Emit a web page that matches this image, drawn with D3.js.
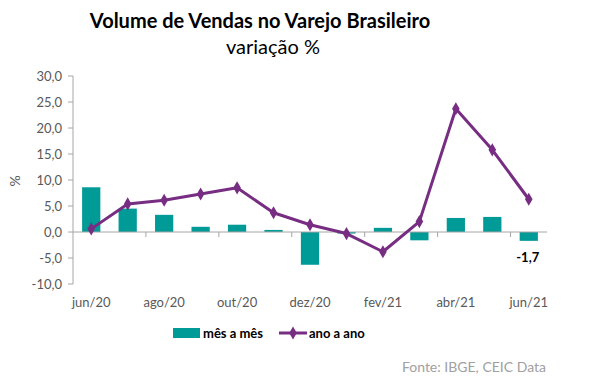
<!DOCTYPE html>
<html lang="pt">
<head>
<meta charset="UTF-8">
<title>Volume de Vendas no Varejo Brasileiro</title>
<script src="https://d3js.org/d3.v7.min.js"></script>
<style>
  body { margin: 0; background: #fff; }
  svg { display: block; font-family: Lato, "Open Sans", sans-serif; }
</style>
</head>
<body>
<svg width="597" height="392"></svg>
<script>
const months = ["jun/20", "jul/20", "ago/20", "set/20", "out/20", "nov/20", "dez/20",
                "jan/21", "fev/21", "mar/21", "abr/21", "mai/21", "jun/21"];
const mesAMes = [8.6, 4.5, 3.3, 1.0, 1.4, 0.4, -6.3, -0.3, 0.8, -1.6, 2.7, 2.9, -1.7];
const anoAAno = [0.6, 5.4, 6.1, 7.3, 8.5, 3.7, 1.4, -0.3, -3.8, 2.0, 23.7, 15.8, 6.3];
const yTicks = [-10, -5, 0, 5, 10, 15, 20, 25, 30];

const teal = "#009a97", purple = "#772d82", grey = "#595959", axisGrey = "#a6a6a6";
const svg = d3.select("svg");

const x = d3.scaleBand().domain(months).range([73, 547]).paddingInner(0.5).paddingOuter(0.25);
const y = d3.scaleLinear().domain([-10, 30]).range([284, 76]);
const fmt = v => d3.format(".1f")(v).replace(".", ",").replace("−", "-");

// y axis
svg.append("line").attr("x1", 73).attr("x2", 73).attr("y1", y(30)).attr("y2", y(-10))
  .attr("stroke", axisGrey);
svg.selectAll(".ytick").data(yTicks).enter().append("line")
  .attr("x1", 68).attr("x2", 73).attr("y1", d => y(d)).attr("y2", d => y(d))
  .attr("stroke", axisGrey);
svg.selectAll(".ylab").data(yTicks).enter().append("text")
  .attr("x", 62).attr("y", d => y(d) + 4.5)
  .attr("text-anchor", "end").attr("font-size", 13).attr("fill", grey)
  .text(fmt);
svg.append("text").attr("transform", "translate(20,181) rotate(-90)")
  .attr("text-anchor", "middle").attr("font-size", 14).attr("fill", grey).text("%");

// bars
const step = x.step();
svg.selectAll(".bar").data(months).enter().append("rect")
  .attr("x", d => x(d)).attr("width", x.bandwidth())
  .attr("y", (d, i) => y(Math.max(0, mesAMes[i])))
  .attr("height", (d, i) => Math.abs(y(mesAMes[i]) - y(0)))
  .attr("fill", teal);

// x axis at zero
svg.append("line").attr("x1", 73).attr("x2", 547).attr("y1", y(0)).attr("y2", y(0))
  .attr("stroke", axisGrey);
const tickIdx = d3.range(2, 14, 2);
svg.selectAll(".xtick").data(tickIdx).enter().append("line")
  .attr("x1", d => 73 + d * step).attr("x2", d => 73 + d * step)
  .attr("y1", y(0)).attr("y2", y(0) + 5).attr("stroke", axisGrey);
svg.selectAll(".xlab").data(months.filter((d, i) => i % 2 === 0)).enter().append("text")
  .attr("x", d => x(d) + x.bandwidth() / 2).attr("y", 307)
  .attr("text-anchor", "middle").attr("font-size", 13).attr("fill", grey)
  .text(d => d);

// line
const cx = d => x(d) + x.bandwidth() / 2;
const line = d3.line().x((d, i) => cx(months[i])).y(d => y(d));
svg.append("path").datum(anoAAno).attr("d", line)
  .attr("fill", "none").attr("stroke", purple).attr("stroke-width", 3).attr("stroke-linejoin", "round");
const diamond = d3.symbol().type(d3.symbolDiamond).size(50);
svg.selectAll(".pt").data(anoAAno).enter().append("path")
  .attr("d", diamond)
  .attr("transform", (d, i) => `translate(${cx(months[i])},${y(d)})`)
  .attr("fill", purple);

// data label on last bar
svg.append("text").attr("x", cx(months[12]) - 1).attr("y", 262)
  .attr("text-anchor", "middle").attr("font-size", 13).attr("font-weight", "bold")
  .attr("fill", "#000").text(fmt(mesAMes[12]));

// title
svg.append("text").attr("x", 260).attr("y", 28).attr("text-anchor", "middle")
  .attr("font-size", 20).attr("font-weight", "bold").attr("fill", "#000")
  .text("Volume de Vendas no Varejo Brasileiro");
svg.append("text").attr("x", 273).attr("y", 54).attr("text-anchor", "middle")
  .attr("font-size", 20).attr("fill", "#000").text("variação %");

// legend
svg.append("rect").attr("x", 173).attr("y", 328).attr("width", 27).attr("height", 10)
  .attr("fill", teal);
svg.append("text").attr("x", 203).attr("y", 338).attr("font-size", 13)
  .attr("font-weight", "bold").attr("fill", "#000").text("mês a mês");
svg.append("line").attr("x1", 279).attr("x2", 307).attr("y1", 333).attr("y2", 333)
  .attr("stroke", purple).attr("stroke-width", 3);
svg.append("path").attr("d", diamond).attr("transform", "translate(293,333)").attr("fill", purple);
svg.append("text").attr("x", 309).attr("y", 338).attr("font-size", 13)
  .attr("font-weight", "bold").attr("fill", "#000").text("ano a ano");

// source
svg.append("text").attr("x", 546).attr("y", 372).attr("text-anchor", "end")
  .attr("font-size", 14).attr("fill", "#a0a0a0").text("Fonte: IBGE, CEIC Data");
</script>
</body>
</html>
